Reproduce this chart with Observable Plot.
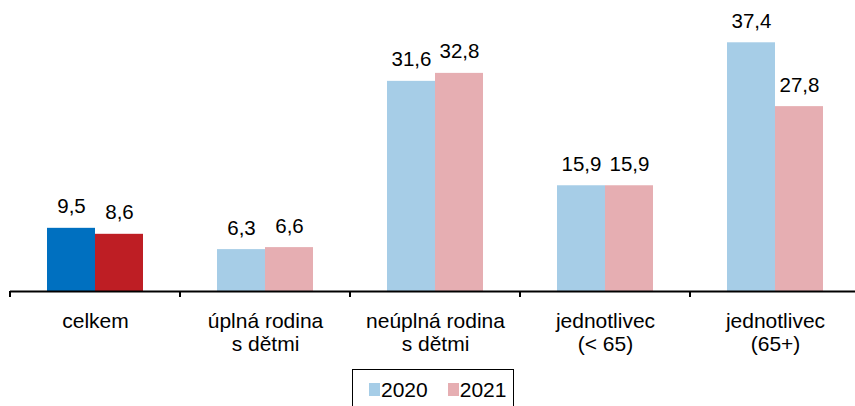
<!DOCTYPE html>
<html>
<head>
<meta charset="utf-8">
<script src="https://cdn.jsdelivr.net/npm/d3@7"></script>
<script src="https://cdn.jsdelivr.net/npm/@observablehq/plot@0.6"></script>
<style>
  html, body { margin: 0; padding: 0; background: #fff; }
  body { width: 855px; height: 406px; overflow: hidden; font-family: "Liberation Sans", Arial, sans-serif; }
  #chart svg { display: block; }
  .legend { margin-left: 352px; width: 162px; height: 40px; border: 1.5px solid #000; border-bottom: none;
            font-size: 21px; color: #000; display: flex; align-items: center; padding-top: 0px; box-sizing: border-box; }
  .legend .item { display: flex; align-items: center; }
  .legend .sw { display: inline-block; width: 11px; height: 13px; margin-right: 1px; }
</style>
</head>
<body>
<div id="chart"></div>
<div class="legend" id="legend"></div>
<script>
const categories = ["celkem", "úplná rodina\ns dětmi", "neúplná rodina\ns dětmi", "jednotlivec\n(< 65)", "jednotlivec\n(65+)"];
const years = ["2020", "2021"];
const values2020 = [9.5, 6.3, 31.6, 15.9, 37.4];
const values2021 = [8.6, 6.6, 32.8, 15.9, 27.8];
const colors2020 = ["#0070C0", "#A6CDE7", "#A6CDE7", "#A6CDE7", "#A6CDE7"];
const colors2021 = ["#BE1E24", "#E6AEB2", "#E6AEB2", "#E6AEB2", "#E6AEB2"];
const legendColors = ["#A6CDE7", "#E6AEB2"];

const data = [];
categories.forEach((c, i) => {
  data.push({category: c, year: years[0], value: values2020[i], color: colors2020[i]});
  data.push({category: c, year: years[1], value: values2021[i], color: colors2021[i]});
});
const fmt = v => v.toFixed(1).replace(".", ",");

const plot = Plot.plot({
  width: 855,
  height: 369,
  marginTop: 25,
  marginBottom: 78,
  marginLeft: 10,
  marginRight: 0,
  style: {fontFamily: "'Liberation Sans', Arial, sans-serif", fontSize: "20px", color: "#000", background: "#fff"},
  fx: {domain: categories, range: [10, 860], padding: 0},
  x: {domain: years, paddingInner: 0, paddingOuter: 0.735},
  y: {domain: [0, 40]},
  color: {type: "identity"},
  marks: [
    Plot.barY(data, {fx: "category", x: "year", y: "value", fill: "color"}),
    Plot.text(data, {fx: "category", x: "year", y: "value", text: d => fmt(d.value),
      lineAnchor: "bottom", dy: -15, fontSize: 20.5, fill: "#000"}),
    Plot.ruleY([0], {stroke: "#000", strokeWidth: 2}),
    Plot.axisFx({anchor: "bottom", tickSize: 0, tickPadding: 20, fontSize: 21, lineHeight: 1.11, label: null, fill: "#000"}),
    Plot.axisX({ticks: [], label: null}),
    Plot.axisY({ticks: [], label: null})
  ]
});

// boundary ticks between categories, positioned via the plot's fx scale
const fx = plot.scale("fx");
const ys = plot.scale("y");
const y0 = ys.apply(0);
const bounds = categories.map(c => fx.apply(c)).concat([fx.apply(categories[categories.length - 1]) + fx.bandwidth]);
d3.select(plot).append("g")
  .selectAll("line").data(bounds).join("line")
  .attr("x1", d => d).attr("x2", d => d)
  .attr("y1", y0).attr("y2", y0 + 6)
  .attr("stroke", "#000").attr("stroke-width", 2);

document.getElementById("chart").appendChild(plot);

const legend = d3.select("#legend");
years.forEach((yr, i) => {
  const it = legend.append("div").attr("class", "item")
    .style("margin-left", i === 0 ? "16px" : "20px");
  it.append("span").attr("class", "sw").style("background", legendColors[i]);
  it.append("span").text(yr);
});
</script>
</body>
</html>
